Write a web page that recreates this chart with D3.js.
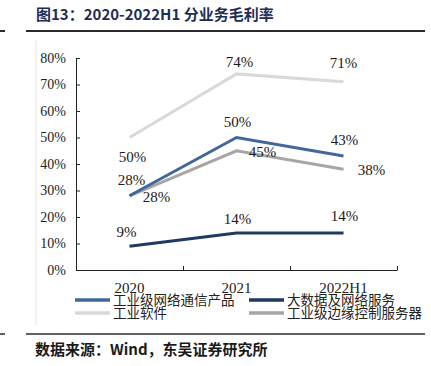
<!DOCTYPE html>
<html>
<head>
<meta charset="utf-8">
<script src="https://cdn.jsdelivr.net/npm/d3@7"></script>
<style>
  body { margin: 0; background: #fff; }
  svg { display: block; }
</style>
</head>
<body>
<div class="container"></div>
<script>
const years = ["2020", "2021", "2022H1"];
const networkProducts = [28, 50, 43];
const bigDataServices = [9, 14, 14];
const industrialSoftware = [50, 74, 71];
const edgeServers = [28, 45, 38];
const yTicks = [0, 10, 20, 30, 40, 50, 60, 70, 80];

const seriesNames = ["工业级网络通信产品", "大数据及网络服务", "工业软件", "工业级边缘控制服务器"];

const render = () => {
    const w = 431;
    const h = 366;

    const series = [
        { name: seriesNames[2], values: industrialSoftware, color: "#d9d9d9",
          offsets: [[3, 19], [3, -12], [0, -19]] },
        { name: seriesNames[3], values: edgeServers, color: "#a6a6a6",
          offsets: [[27, 1], [26, 1], [28, 0]] },
        { name: seriesNames[0], values: networkProducts, color: "#41679b",
          offsets: [[2, -16], [1, -16], [1, -16]] },
        { name: seriesNames[1], values: bigDataServices, color: "#1f3a60",
          offsets: [[-3, -14], [1, -14], [1, -17]] },
    ];

    const svg = d3.select(".container")
        .append("svg")
        .attr("width", w)
        .attr("height", h);

    // frame lines
    svg.append("line")
        .attr("x1", 36).attr("x2", 36).attr("y1", 40).attr("y2", 325)
        .attr("stroke", "#e2e2e2").attr("stroke-width", 1);
    [[31, 2], [334, 1.5]].forEach(([y, sw]) => {
        svg.append("line")
            .attr("x1", 26).attr("x2", 425).attr("y1", y).attr("y2", y)
            .attr("stroke", "#2b2b2b").attr("stroke-width", sw);
        svg.append("line")
            .attr("x1", 0).attr("x2", 5).attr("y1", y).attr("y2", y)
            .attr("stroke", "#2b2b2b").attr("stroke-width", sw);
    });

    svg.append("text")
        .attr("x", 36).attr("y", 20)
        .attr("font-family", "'Noto Sans CJK SC', sans-serif")
        .attr("font-weight", "bold")
        .attr("font-size", 15)
        .attr("fill", "#1f2d55")
        .text("图13：2020-2022H1 分业务毛利率");

    svg.append("text")
        .attr("x", 35).attr("y", 355)
        .attr("font-family", "'Noto Sans CJK SC', sans-serif")
        .attr("font-weight", "bold")
        .attr("font-size", 15)
        .attr("fill", "#1a1a1a")
        .text("数据来源：Wind，东吴证券研究所");

    const xScale = d3.scaleBand().domain(years).range([76, 397]);
    const yScale = d3.scaleLinear().domain([0, 80]).range([270, 58]);

    const serif = "'Liberation Serif', 'Times New Roman', serif";

    const yAxis = d3.axisLeft(yScale)
        .tickValues(yTicks)
        .tickFormat((d) => d + "%")
        .tickSizeInner(-4)
        .tickSizeOuter(0)
        .tickPadding(10);
    const gy = svg.append("g")
        .attr("id", "y-axis")
        .attr("transform", "translate(76, 0)")
        .call(yAxis);
    gy.selectAll("text").attr("font-family", serif).attr("font-size", 14).attr("fill", "#222");
    gy.selectAll("line, path").attr("stroke", "#222");

    // x axis boundary ticks
    const xEdge = d3.scaleLinear().domain([0, years.length]).range(xScale.range());
    const gxTicks = svg.append("g")
        .attr("transform", "translate(0, 270)")
        .call(d3.axisBottom(xEdge).ticks(years.length).tickFormat("").tickSizeInner(-4).tickSizeOuter(0));
    gxTicks.selectAll("line, path").attr("stroke", "#222");

    const gx = svg.append("g")
        .attr("id", "x-axis")
        .attr("transform", "translate(0, 270)")
        .call(d3.axisBottom(xScale).tickSize(0).tickPadding(12));
    gx.select(".domain").remove();
    gx.selectAll("text").attr("font-family", serif).attr("font-size", 15).attr("fill", "#222");

    const line = d3.line()
        .x((d, i) => xScale(years[i]) + xScale.bandwidth() / 2)
        .y((d) => yScale(d));

    series.forEach((s) => {
        svg.append("path")
            .datum(s.values)
            .attr("d", line)
            .attr("fill", "none")
            .attr("stroke", s.color)
            .attr("stroke-width", 3);
    });

    series.forEach((s) => {
        svg.append("g")
            .selectAll("text")
            .data(s.values)
            .enter()
            .append("text")
            .attr("x", (d, i) => xScale(years[i]) + xScale.bandwidth() / 2 + s.offsets[i][0])
            .attr("y", (d, i) => yScale(d) + s.offsets[i][1])
            .attr("dy", "0.35em")
            .attr("text-anchor", "middle")
            .attr("font-family", serif)
            .attr("font-size", 15)
            .attr("fill", "#1a1a1a")
            .text((d) => d + "%");
    });

    // legend
    const legendItems = [
        { name: seriesNames[0], color: "#41679b", x: 75, y: 300 },
        { name: seriesNames[1], color: "#1f3a60", x: 249, y: 300 },
        { name: seriesNames[2], color: "#d9d9d9", x: 75, y: 313 },
        { name: seriesNames[3], color: "#a6a6a6", x: 249, y: 313 },
    ];
    const lg = svg.append("g").selectAll("g")
        .data(legendItems)
        .enter()
        .append("g")
        .attr("transform", (d) => `translate(${d.x}, ${d.y})`);
    lg.append("line")
        .attr("x1", 0).attr("x2", 35)
        .attr("stroke", (d) => d.color)
        .attr("stroke-width", 3.5);
    lg.append("text")
        .attr("x", 38)
        .attr("dy", "0.38em")
        .attr("font-family", "'Noto Sans CJK SC', sans-serif")
        .attr("font-size", 13.5)
        .attr("fill", "#222")
        .text((d) => d.name);
};

render();
</script>
</body>
</html>
